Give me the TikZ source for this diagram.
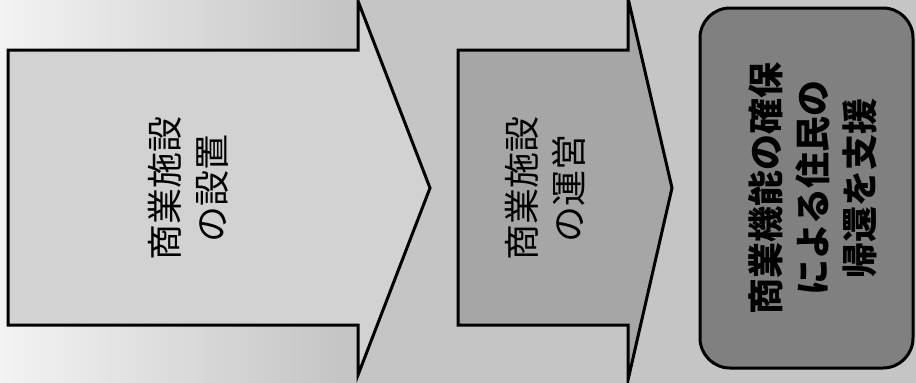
\documentclass[tikz,border=0pt]{standalone}
\usepackage{fontspec}
\newfontfamily\cjk{Noto Sans CJK JP}
\begin{document}
\begin{tikzpicture}[x=1pt,y=-1pt,
  shapeline/.style={draw=black,line width=3pt,line join=miter},
  lbl/.style={rotate=90,align=center,font=\cjk\fontsize{36}{47}\selectfont,text=black}]
\definecolor{bgL}{RGB}{243,243,243}
\definecolor{bgR}{RGB}{197,197,197}
\definecolor{arrA}{RGB}{210,210,210}
\definecolor{arrB}{RGB}{166,166,166}
\definecolor{boxC}{RGB}{128,128,128}
\useasboundingbox (0,0) rectangle (916,383);
\shade[left color=bgL,right color=bgR] (0,0) rectangle (340,383);
\fill[bgR] (339.5,0) rectangle (916,383);
\draw[shapeline,fill=arrA] (8,50) -- (358,50) -- (358,1) -- (430,188) -- (358,375) -- (358,325) -- (8,325) -- cycle;
\draw[shapeline,fill=arrB] (458,50) -- (628,50) -- (628,-2) -- (672,188) -- (628,380) -- (628,325) -- (458,325) -- cycle;
\draw[shapeline,fill=boxC,rounded corners=30pt] (700,8) rectangle (913,368);
\node[lbl] (t1) at (188,188) {商業施設\\の設置};
\node[lbl] (t2) at (545,188) {商業施設\\の運営};
\node[lbl,font=\cjk\bfseries\fontsize{36}{47}\selectfont] (t3) at (813,188) {商業機能の確保\\による住民の\\帰還を支援};
\end{tikzpicture}
\end{document}
